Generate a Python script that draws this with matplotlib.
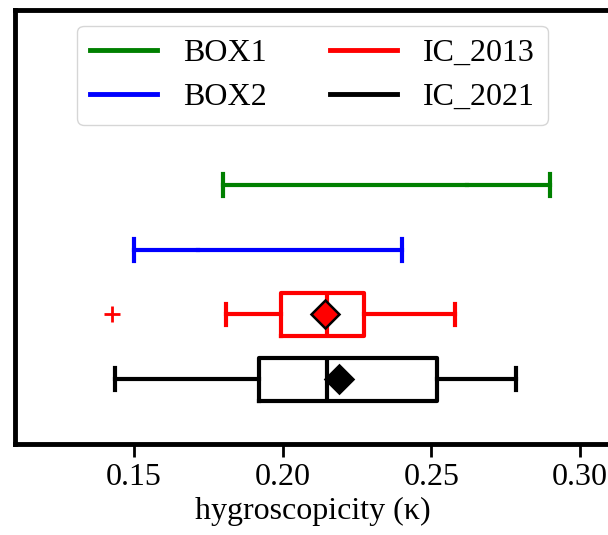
import matplotlib
matplotlib.use('Agg')
import matplotlib.pyplot as plt
from matplotlib.lines import Line2D

# data -------------------------------------------------------------------------
names = ['IC_2021', 'IC_2013', 'BOX2', 'BOX1']
colors = ['black', 'red', 'blue', 'green']
positions = [1, 2, 3, 4]

whislo = [0.1437, 0.181, 0.150, 0.180]
q1 = [0.1919, 0.1993, 0.1714, 0.262]
med = [0.215, 0.215, 0.1714, 0.262]
q3 = [0.2518, 0.2273, 0.1714, 0.262]
whishi = [0.2785, 0.258, 0.240, 0.290]
means = [0.219, 0.2144, None, None]
fliers = [[], [0.1427], [], []]
has_box = [True, True, False, False]

legend_order = ['BOX1', 'BOX2', 'IC_2013', 'IC_2021']
legend_colors = ['green', 'blue', 'red', 'black']

plt.rcParams['font.family'] = ['Liberation Serif', 'DejaVu Serif']
plt.rcParams['font.size'] = 23

fig = plt.figure(figsize=(6.08, 5.35), dpi=100)
ax = fig.add_axes([0.0252, 0.1701, 0.9773, 0.8112])

lw = 3
for i in range(len(names)):
    st = {'whislo': whislo[i], 'q1': q1[i], 'med': med[i], 'q3': q3[i],
          'whishi': whishi[i], 'fliers': fliers[i], 'label': names[i]}
    if means[i] is not None:
        st['mean'] = means[i]
    c = colors[i]
    ax.bxp([st], positions=[positions[i]], widths=0.67, vert=False,
           showbox=has_box[i], showmeans=means[i] is not None,
           showfliers=True,
           boxprops=dict(color=c, linewidth=lw),
           whiskerprops=dict(color=c, linewidth=lw),
           capprops=dict(color=c, linewidth=lw),
           medianprops=dict(color=c if has_box[i] else 'none', linewidth=lw),
           meanprops=dict(marker='D', markerfacecolor=c, markeredgecolor='black',
                          markeredgewidth=1.8, markersize=14),
           flierprops=dict(marker='+', markeredgecolor=c, markersize=11,
                           markeredgewidth=2))

ax.set_xlim(0.11, 0.31)
ax.set_ylim(0, 6.7)
ax.set_yticks([])
ax.set_xticks([0.15, 0.20, 0.25, 0.30])
ax.set_xticklabels(['0.15', '0.20', '0.25', '0.30'])
ax.tick_params(axis='x', direction='out', length=9, width=2, pad=5)
for sp in ax.spines.values():
    sp.set_linewidth(3.5)
ax.set_xlabel('hygroscopicity (κ)', labelpad=3)

handles = [Line2D([0], [0], color=c, lw=3.5) for c in legend_colors]
ax.legend(handles, legend_order, loc='upper center', ncol=2,
          labelspacing=0.45, handlelength=2.1, columnspacing=2.0)

fig.savefig('out.png', dpi=100)
